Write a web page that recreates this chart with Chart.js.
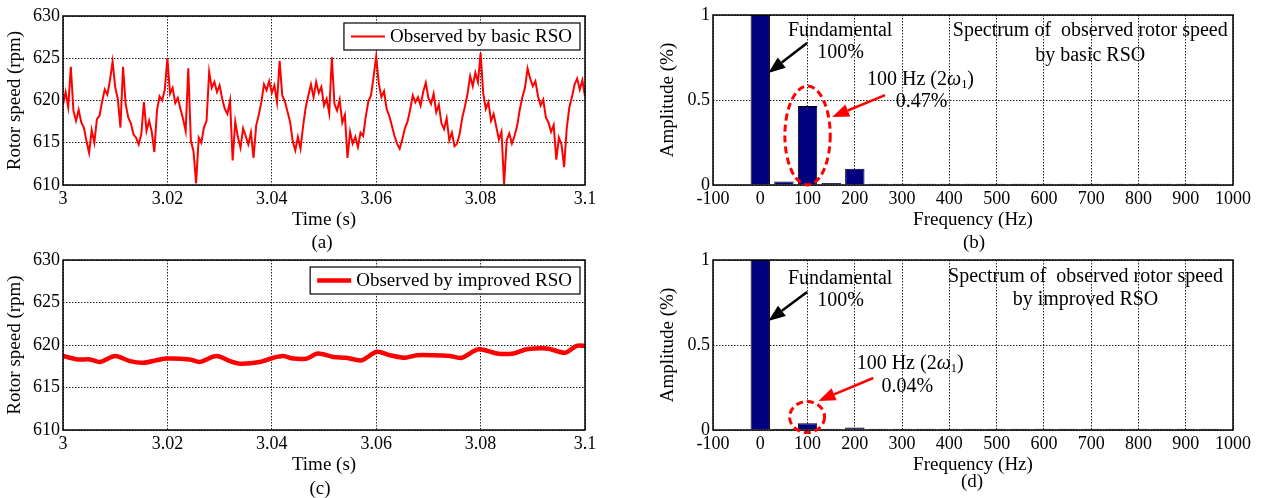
<!DOCTYPE html>
<html>
<head>
<meta charset="utf-8">
<script src="https://cdn.jsdelivr.net/npm/chart.js@4.4.0/dist/chart.umd.min.js"></script>
<style>
  html, body { margin: 0; padding: 0; background: #fff; }
  body { width: 1263px; height: 498px; position: relative; overflow: hidden;
         font-family: "Liberation Serif", "Times New Roman", serif; color: #000; }
  .panel { position: absolute; }
  .panel canvas { display: block; }
  .tag { position: absolute; width: 40px; text-align: center; font-size: 19px; line-height: 22px; }
</style>
</head>
<body>
<div class="panel" style="left:0;top:0"><canvas id="chartA" width="610" height="250"></canvas></div>
<div class="panel" style="left:640px;top:0"><canvas id="chartB" width="623" height="250"></canvas></div>
<div class="panel" style="left:0;top:250px"><canvas id="chartC" width="610" height="248"></canvas></div>
<div class="panel" style="left:640px;top:250px"><canvas id="chartD" width="623" height="248"></canvas></div>
<div class="tag" style="left:302px;top:231px">(a)</div>
<div class="tag" style="left:954px;top:231px">(b)</div>
<div class="tag" style="left:300px;top:477px">(c)</div>
<div class="tag" style="left:952px;top:470px">(d)</div>

<script>
const FONT = '"Liberation Serif", "Times New Roman", serif';

// Rotor speed observed by basic RSO, one reading every 0.5 ms from 3.000 s
const basicStart = 3;
const basicStep = 0.0005;
const basicSpeed = [
  619.5, 621.0, 619.2, 624.0, 618.8, 617.6, 618.9, 617.4, 616.8, 615.2, 613.8, 616.5, 615.0, 617.8, 618.2, 619.9, 621.3, 620.7, 622.4, 624.6,
  621.6, 620.2, 616.8, 624.0, 619.6, 618.0, 617.3, 616.0, 615.6, 614.8, 616.0, 619.8, 616.4, 617.6, 616.3, 613.9, 618.8, 620.5, 620.0, 621.3,
  625.0, 620.8, 621.5, 619.7, 620.3, 619.0, 617.8, 616.4, 623.8, 615.2, 614.0, 610.2, 615.6, 615.0, 616.8, 617.6, 623.4, 621.5, 622.2, 621.0,
  621.8, 620.2, 619.0, 618.4, 620.0, 612.9, 617.5, 615.7, 614.4, 616.7, 615.8, 614.8, 616.2, 613.2, 617.0, 618.3, 619.8, 621.9, 621.2, 622.3,
  620.9, 621.8, 619.8, 624.7, 620.6, 619.9, 618.7, 617.5, 615.2, 614.1, 615.7, 614.3, 617.0, 619.2, 620.6, 621.9, 620.4, 622.2, 620.9, 621.6,
  619.4, 620.2, 618.5, 625.1, 619.6, 618.8, 620.1, 617.4, 618.3, 613.2, 616.3, 614.9, 615.7, 614.5, 616.2, 615.8, 618.1, 619.9, 620.6, 622.8,
  625.2, 622.0, 620.4, 621.1, 619.0, 618.2, 617.0, 615.8, 614.9, 614.3, 615.4, 616.7, 617.5, 618.9, 620.6, 619.8, 620.4, 619.4, 621.0, 622.1,
  620.3, 619.6, 620.8, 618.6, 619.5, 617.3, 616.6, 617.9, 615.3, 616.2, 614.6, 614.9, 616.1, 618.0, 619.3, 620.8, 622.9, 621.7, 623.3, 622.2,
  625.6, 620.9, 619.0, 619.8, 617.6, 618.4, 616.9, 615.4, 616.3, 610.1, 615.3, 616.1, 614.9, 615.8, 617.0, 618.9, 620.4, 621.5, 623.8, 622.6,
  621.7, 622.3, 620.5, 619.4, 620.1, 618.0, 617.4, 616.3, 617.1, 613.0, 615.6, 614.8, 612.1, 616.7, 619.2, 620.4, 621.9, 622.6, 621.3, 622.4,
  620.5
];

// Rotor speed observed by improved RSO
const improvedTime = [
  3.0, 3.0029, 3.0052, 3.0071, 3.0100, 3.0128, 3.0154, 3.0179, 3.0199, 3.0243,
  3.0262, 3.0294, 3.0320, 3.0339, 3.0377, 3.0403, 3.0422, 3.0441, 3.0467, 3.0488,
  3.0518, 3.0543, 3.0572, 3.0601, 3.0626, 3.0655, 3.0678, 3.0709, 3.0741, 3.0764,
  3.0796, 3.0831, 3.0863, 3.0888, 3.0927, 3.0962, 3.0984, 3.1
];
const improvedSpeed = [
  618.7, 618.3, 618.3, 618.0, 618.7, 618.1, 617.9, 618.2, 618.4, 618.3,
  618.0, 618.7, 618.1, 617.8, 618.0, 618.5, 618.7, 618.4, 618.4, 619.0,
  618.6, 618.5, 618.2, 619.2, 618.8, 618.5, 618.8, 618.8, 618.7, 618.5,
  619.5, 619.0, 619.0, 619.5, 619.6, 619.1, 619.9, 619.9
];

// Spectra (amplitude in %)
const spectrumFreq = [0, 50, 100, 150, 200, 250, 300, 350, 400, 450, 500, 550, 600, 650, 700, 750, 800, 850, 900, 950];
const basicAmp = [1.0, 0.02, 0.465, 0.012, 0.095, 0.007, 0.007, 0.007, 0.007, 0.007, 0.007, 0.007, 0.007, 0.007, 0.007, 0.007, 0.007, 0.007, 0.007, 0.007];
const improvedAmp = [1.0, 0.008, 0.04, 0.007, 0.014, 0.007, 0.007, 0.007, 0.007, 0.007, 0.007, 0.007, 0.007, 0.007, 0.007, 0.007, 0.007, 0.007, 0.007, 0.007];

// Tick values and labels
const timeTicks = [3, 3.02, 3.04, 3.06, 3.08, 3.1];
const timeTickLabels = ['3', '3.02', '3.04', '3.06', '3.08', '3.1'];
const speedTicks = [610, 615, 620, 625, 630];
const speedTickLabels = ['610', '615', '620', '625', '630'];
const freqTicks = [-100, 0, 100, 200, 300, 400, 500, 600, 700, 800, 900, 1000];
const freqTickLabels = ['-100', '0', '100', '200', '300', '400', '500', '600', '700', '800', '900', '1000'];
const ampTicks = [0, 0.5, 1];
const ampTickLabels = ['0', '0.5', '1'];

const basicTime = basicSpeed.map((_, i) => basicStart + i * basicStep);

Chart.defaults.font.family = FONT;
Chart.defaults.color = '#000';
Chart.defaults.animation = false;

// Frame, inside legend, text notes, arrows and ellipses
function drawRichText(ctx, parts, cx, cy, size) {
  let total = 0;
  const fonts = parts.map(p => {
    const s = p.sub ? size * 0.62 : size;
    const f = (p.italic ? 'italic ' : '') + s + 'px ' + FONT;
    ctx.font = f;
    const w = ctx.measureText(p.text).width;
    total += w;
    return { f, w };
  });
  let x = cx - total / 2;
  ctx.textAlign = 'left';
  ctx.textBaseline = 'middle';
  parts.forEach((p, i) => {
    ctx.font = fonts[i].f;
    ctx.fillText(p.text, x, cy + (p.sub ? size * 0.22 : 0));
    x += fonts[i].w;
  });
}

function drawArrow(ctx, x1, y1, x2, y2, color) {
  const ang = Math.atan2(y2 - y1, x2 - x1);
  const head = 17, half = 6.5;
  const c = Math.cos(ang), s = Math.sin(ang);
  ctx.strokeStyle = color;
  ctx.fillStyle = color;
  ctx.lineWidth = 2.5;
  ctx.setLineDash([]);
  ctx.beginPath();
  ctx.moveTo(x1, y1);
  ctx.lineTo(x2 - head * c, y2 - head * s);
  ctx.stroke();
  ctx.beginPath();
  ctx.moveTo(x2, y2);
  ctx.lineTo(x2 - head * c + half * s, y2 - head * s - half * c);
  ctx.lineTo(x2 - head * c - half * s, y2 - head * s + half * c);
  ctx.closePath();
  ctx.fill();
}

const decor = {
  id: 'decor',
  afterDraw(chart, args, opts) {
    const { ctx, chartArea: a, scales: { x, y } } = chart;
    ctx.save();
    ctx.setLineDash([]);
    ctx.strokeStyle = '#000';
    ctx.lineWidth = 1.5;
    ctx.strokeRect(a.left, a.top, a.right - a.left, a.bottom - a.top);

    if (opts.legendBox) {
      const ds = chart.data.datasets[0];
      ctx.font = '19px ' + FONT;
      const tw = ctx.measureText(ds.label).width;
      const h = 27, sample = 34;
      const w = 7 + sample + 5 + tw + 8;
      const left = a.right - 5 - w, top = a.top + 7;
      ctx.fillStyle = '#fff';
      ctx.fillRect(left, top, w, h);
      ctx.strokeStyle = '#000';
      ctx.lineWidth = 1.2;
      ctx.strokeRect(left, top, w, h);
      ctx.strokeStyle = ds.borderColor;
      ctx.lineWidth = ds.borderWidth;
      ctx.beginPath();
      ctx.moveTo(left + 7, top + h / 2);
      ctx.lineTo(left + 7 + sample, top + h / 2);
      ctx.stroke();
      ctx.fillStyle = '#000';
      ctx.textAlign = 'left';
      ctx.textBaseline = 'middle';
      ctx.fillText(ds.label, left + 7 + sample + 5, top + h / 2 + 1);
    }

    (opts.ellipses || []).forEach(e => {
      const cx = x.getPixelForValue(e.x), cy = y.getPixelForValue(e.y);
      const rx = Math.abs(x.getPixelForValue(e.x + e.rx) - cx);
      const ry = Math.abs(y.getPixelForValue(e.y + e.ry) - cy);
      ctx.strokeStyle = e.color;
      ctx.lineWidth = 3;
      ctx.setLineDash([7, 4]);
      ctx.beginPath();
      ctx.ellipse(cx, cy, rx, ry, 0, 0, Math.PI * 2);
      ctx.stroke();
    });

    (opts.arrows || []).forEach(r => {
      drawArrow(ctx, x.getPixelForValue(r.from[0]), y.getPixelForValue(r.from[1]),
        x.getPixelForValue(r.to[0]), y.getPixelForValue(r.to[1]), r.color);
    });

    ctx.fillStyle = '#000';
    (opts.texts || []).forEach(t => {
      drawRichText(ctx, t.parts, x.getPixelForValue(t.x), y.getPixelForValue(t.y), 20);
    });
    ctx.restore();
  }
};
Chart.register(decor);

function xAxis(min, max, values, labels, title, height) {
  return {
    type: 'linear', min, max, offset: false,
    afterBuildTicks: s => { s.ticks = values.map(v => ({ value: v })); },
    afterFit: s => { s.height = height; s.paddingLeft = 0; s.paddingRight = 0; },
    ticks: { callback: (v, i) => labels[i], font: { size: 18 }, padding: 3, maxRotation: 0, autoSkip: false, color: '#000' },
    grid: { color: '#222', lineWidth: 1, drawTicks: false, offset: false },
    border: { display: false, dash: [1.5, 1.5] },
    title: { display: true, text: title, font: { size: 19 }, padding: { top: 0, bottom: 0 }, color: '#000' }
  };
}

function yAxis(min, max, values, labels, title, width, titlePad) {
  return {
    type: 'linear', min, max,
    afterBuildTicks: s => { s.ticks = values.map(v => ({ value: v })); },
    afterFit: s => { s.width = width; s.paddingTop = 0; s.paddingBottom = 0; },
    ticks: { callback: (v, i) => labels[i], font: { size: 18 }, padding: 3, autoSkip: false, color: '#000' },
    grid: { color: '#222', lineWidth: 1, drawTicks: false },
    border: { display: false, dash: [1.5, 1.5] },
    title: { display: true, text: title, font: { size: 19 }, padding: { top: titlePad, bottom: 0 }, color: '#000' }
  };
}

function speedChart(id, label, times, speeds, width, smooth, top, bottom) {
  return new Chart(document.getElementById(id), {
    type: 'line',
    data: {
      datasets: [{
        label: label,
        data: times.map((t, i) => ({ x: t, y: speeds[i] })),
        borderColor: '#ff0000',
        borderWidth: width,
        pointRadius: 0,
        tension: smooth,
        fill: false
      }]
    },
    options: {
      responsive: false,
      animation: false,
      layout: { padding: { left: 0, top: top, right: 25, bottom: bottom } },
      scales: {
        x: xAxis(3, 3.1, timeTicks, timeTickLabels, 'Time (s)', 46),
        y: yAxis(610, 630, speedTicks, speedTickLabels, 'Rotor speed (rpm)', 63, 4)
      },
      plugins: { legend: { display: false }, tooltip: { enabled: false }, decor: { legendBox: true } }
    }
  });
}

function spectrumChart(id, amps, top, bottom, notes) {
  return new Chart(document.getElementById(id), {
    type: 'bar',
    data: {
      datasets: [{
        data: spectrumFreq.map((f, i) => ({ x: f, y: amps[i] })),
        backgroundColor: '#000080',
        borderColor: '#000',
        borderWidth: 1,
        barPercentage: 0.82,
        categoryPercentage: 1
      }]
    },
    options: {
      responsive: false,
      animation: false,
      layout: { padding: { left: 0, top: top, right: 30, bottom: bottom } },
      scales: {
        x: xAxis(-100, 1000, freqTicks, freqTickLabels, 'Frequency (Hz)', 46),
        y: yAxis(0, 1, ampTicks, ampTickLabels, 'Amplitude (%)', 73, 17)
      },
      plugins: { legend: { display: false }, tooltip: { enabled: false }, decor: notes }
    }
  });
}

const omegaParts = [{ text: '100 Hz (2' }, { text: 'ω', italic: true }, { text: '1', sub: true }, { text: ')' }];

speedChart('chartA', 'Observed by basic RSO', basicTime, basicSpeed, 2, 0, 16, 19);
speedChart('chartC', 'Observed by improved RSO', improvedTime, improvedSpeed, 4.5, 0.3, 10, 22);

spectrumChart('chartB', basicAmp, 15, 19, {
  texts: [
    { x: 169, y: 0.906, parts: [{ text: 'Fundamental' }] },
    { x: 170, y: 0.778, parts: [{ text: '100%' }] },
    { x: 339, y: 0.618, parts: omegaParts },
    { x: 341, y: 0.488, parts: [{ text: '0.47%' }] },
    { x: 698, y: 0.906, parts: [{ text: 'Spectrum of  observed rotor speed' }] },
    { x: 698, y: 0.759, parts: [{ text: 'by basic RSO' }] }
  ],
  arrows: [
    { from: [99, 0.835], to: [17, 0.659], color: '#000' },
    { from: [264, 0.529], to: [152, 0.4], color: '#ff0000' }
  ],
  ellipses: [{ x: 100, y: 0.291, rx: 48, ry: 0.291, color: '#ff0000' }]
});

spectrumChart('chartD', improvedAmp, 10, 22, {
  texts: [
    { x: 169, y: 0.888, parts: [{ text: 'Fundamental' }] },
    { x: 170, y: 0.759, parts: [{ text: '100%' }] },
    { x: 317, y: 0.388, parts: omegaParts },
    { x: 311, y: 0.253, parts: [{ text: '0.04%' }] },
    { x: 688, y: 0.9, parts: [{ text: 'Spectrum of  observed rotor speed' }] },
    { x: 688, y: 0.765, parts: [{ text: 'by improved RSO' }] }
  ],
  arrows: [
    { from: [99, 0.812], to: [17, 0.641], color: '#000' },
    { from: [239, 0.306], to: [123, 0.171], color: '#ff0000' }
  ],
  ellipses: [{ x: 99, y: 0.076, rx: 37, ry: 0.091, color: '#ff0000' }]
});
</script>
</body>
</html>
